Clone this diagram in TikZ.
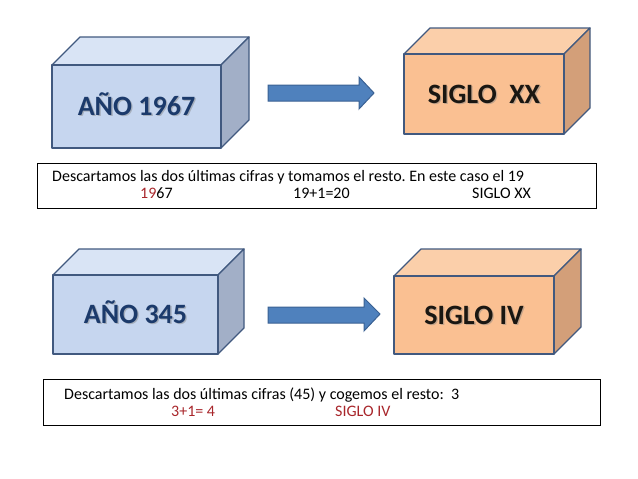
\documentclass[tikz,border=0pt]{standalone}
\usepackage{fontspec}
\setmainfont{Carlito}
\frenchspacing
\definecolor{bfront}{HTML}{C6D6EF}
\definecolor{btop}{HTML}{D9E4F5}
\definecolor{bside}{HTML}{A2AFC7}
\definecolor{ofront}{HTML}{FAC092}
\definecolor{otop}{HTML}{FBCFAA}
\definecolor{oside}{HTML}{D39F79}
\definecolor{cubeedge}{HTML}{41597F}
\definecolor{arrowfill}{HTML}{4F81BD}
\definecolor{arrowedge}{HTML}{3A6193}
\definecolor{navy}{HTML}{1B3A6B}
\definecolor{nearblack}{HTML}{1A1712}
\definecolor{darkred}{HTML}{A8262B}
\newcommand\mycube[9]{% x1 y1 x2 y2 depth prefix name text textcolor
  \filldraw[cubeface, fill=#6top] (#1,#2) -- (#1+#5,#2-#5) -- (#3+#5,#2-#5) -- (#3,#2) -- cycle;
  \filldraw[cubeface, fill=#6side] (#3,#2) -- (#3+#5,#2-#5) -- (#3+#5,#4-#5) -- (#3,#4) -- cycle;
  \filldraw[cubeface, fill=#6front] (#1,#2) rectangle (#3,#4);
  \node[bigtext, text=gray, opacity=0.45] at ({(#1+#3)/2+1.3},{(#2+#4)/2+9+1.3}) {#8};
  \node[bigtext, text=#9] (#7) at ({(#1+#3)/2},{(#2+#4)/2+9}) {#8};
}
\tikzset{
  cubeface/.style={draw=cubeedge, line width=1.3pt, line join=round},
  bigtext/.style={font=\fontsize{28}{34}\selectfont\bfseries, anchor=base, inner sep=0pt},
  bodytext/.style={font=\fontsize{16}{19}\selectfont, anchor=base west, inner sep=0pt},
  textbox/.style={draw=black, line width=1pt, anchor=north west, inner sep=0pt},
  blockarrow/.style={fill=arrowfill, draw=arrowedge, line width=1pt, line join=miter},
}
\begin{document}
\begin{tikzpicture}[x=1pt,y=-1pt]
\useasboundingbox (0,0) rectangle (638,479);
% top row
\mycube{52}{65}{221}{148}{28}{b}{anio1}{AÑO 1967}{navy}
\mycube{404}{54}{564}{134}{26}{o}{siglo1}{SIGLO\ \ XX}{nearblack}
\filldraw[blockarrow] (268,85) -- (359,85) -- (359,77) -- (374,93) -- (359,109) -- (359,101) -- (268,101) -- cycle;
% top text box
\node[textbox, minimum width=559pt, minimum height=45pt] (box1) at (37,163) {};
\node[bodytext] (t1a) at (52,181) {Descartamos las dos últimas cifras y tomamos el resto. En este caso el 19};
\node[bodytext] (t1b) at (140,198) {\textcolor{darkred}{19}67};
\node[bodytext] (t1c) at (293,198) {19+1=20};
\node[bodytext] (t1d) at (472,198) {SIGLO XX};
% bottom row
\mycube{53}{275}{218}{354}{26}{b}{anio2}{AÑO 345}{navy}
\mycube{394}{276}{554}{354}{27}{o}{siglo2}{SIGLO IV}{nearblack}
\filldraw[blockarrow] (268,307) -- (364,307) -- (364,298) -- (380,314) -- (364,331) -- (364,323) -- (268,323) -- cycle;
% bottom text box
\node[textbox, minimum width=557pt, minimum height=46pt] (box2) at (43,379) {};
\node[bodytext] (t2a) at (64,399) {Descartamos las dos últimas cifras (45) y cogemos el resto:\ \ 3};
\node[bodytext, text=darkred] (t2b) at (171,416) {3+1= 4};
\node[bodytext, text=darkred] (t2c) at (335,416) {SIGLO IV};
\end{tikzpicture}
\end{document}
